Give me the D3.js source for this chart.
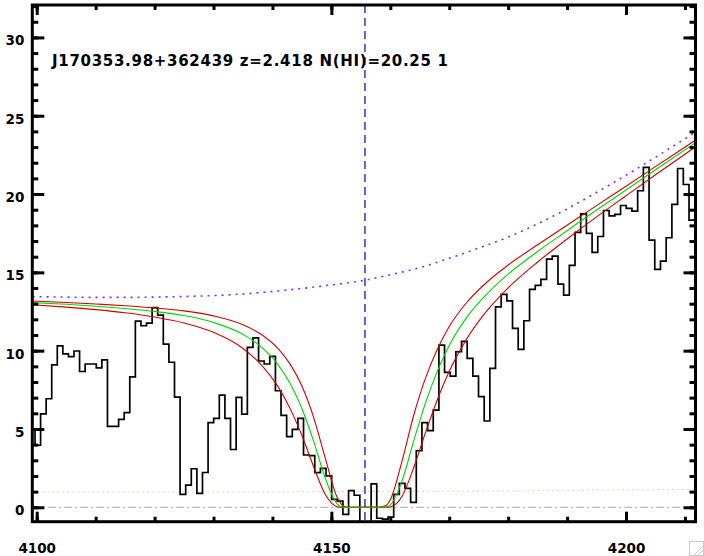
<!DOCTYPE html>
<html><head><meta charset="utf-8">
<script src="https://cdn.jsdelivr.net/npm/d3@7"></script>
<style>html,body{margin:0;padding:0;background:#fff}svg{display:block}</style>
</head><body>
<svg id="chart" width="704" height="556"></svg>
<script>
// ---------- data ----------
const titleText = "J170353.98+362439 z=2.418 N(HI)=20.25 1";
const xMajorTicks = [4100, 4150, 4200];
const xMinorTicks = [4100, 4110, 4120, 4130, 4140, 4150, 4160, 4170, 4180, 4190, 4200, 4210];
const yMajorTicks = [0, 5, 10, 15, 20, 25, 30];
const yMinorTicks = d3.range(0, 33, 1);
const lineCenter = 4155.7;

// SDSS log-lambda pixel grid (centre of first pixel, step in log10)
const pixelStart = 4099.24;
const logStep = 1e-4;
const flux = [
  5.0, 3.96, 5.97, 6.93, 9.09, 10.3, 9.79, 9.62, 9.98, 8.67,
  9.15, 9.15, 8.90, 9.41, 5.17, 5.17, 5.61, 6.04, 8.33, 11.89,
  11.59, 11.76, 12.75, 12.27, 10.42, 9.26, 7.03, 0.83, 1.42, 2.46,
  0.89, 2.22, 5.40, 5.68, 7.16, 5.68, 3.69, 7.02, 5.95, 10.21,
  10.82, 9.34, 9.15, 9.63, 7.44, 5.87, 4.51, 4.98, 5.68, 3.34,
  3.30, 2.21, 2.49, 2.00, 0.5, 0.4, -0.45, 1.06, 0.77, -1.3,
  -1.3, 1.49, -0.70, -0.75, -0.63, 0.83, 1.53, 1.21, 0.32, 3.61,
  5.40, 4.89, 6.2, 10.36, 8.61, 8.38, 9.93, 10.59, 9.51, 8.38,
  7.06, 5.51, 8.87, 12.80, 13.59, 13.18, 11.42, 10.08, 11.91, 13.91,
  14.17, 14.55, 15.85, 16.04, 14.25, 13.55, 15.44, 17.55, 18.74, 17.49,
  16.27, 17.29, 18.95, 18.61, 18.70, 19.27, 19.08, 18.91, 20.21, 21.70,
  17.06, 15.19, 15.72, 17.21, 19.34, 21.63, 20.61, 18.33, 18.33
];

// continuum (purple dotted)
const contWave = [4099.3, 4105, 4110, 4115, 4120, 4125, 4130, 4135, 4140, 4145, 4150, 4155, 4160, 4165, 4170, 4175, 4180, 4185, 4190, 4195, 4200, 4205, 4212];
const contFlux = [13.45, 13.42, 13.40, 13.40, 13.42, 13.46, 13.52, 13.62, 13.78, 13.97, 14.2, 14.45, 14.85, 15.3, 15.9, 16.55, 17.25, 18.1, 19.05, 20.1, 21.2, 22.35, 24.0];

// error level (orange dotted)
const errWave = [4099.3, 4130, 4150, 4170, 4190, 4212];
const errFlux = [0.97, 0.97, 1.0, 1.02, 1.08, 1.15];

// fitted profiles: best fit (green) and the two bounding fits (red)
const fitWave  = [4099.3, 4105, 4110, 4115, 4120, 4125, 4130, 4135, 4138, 4141, 4143, 4145, 4147, 4149, 4151, 4152, 4153, 4155.6, 4158, 4159.2, 4160, 4162, 4164, 4166, 4168, 4170, 4173, 4176, 4180, 4185, 4190, 4195, 4200, 4205, 4212];
const fitBest  = [13.07, 12.96, 12.84, 12.69, 12.51, 12.24, 11.80, 11.04, 10.27, 9.08, 7.91, 6.31, 4.21, 1.82, 0.21, 0.01, 0, 0, 0, 0.01, 0.15, 1.70, 4.27, 6.70, 8.71, 10.33, 12.14, 13.47, 14.89, 16.33, 17.66, 18.98, 20.26, 21.55, 23.33];
const fitLowN  = [13.17, 13.08, 12.98, 12.87, 12.73, 12.54, 12.22, 11.65, 11.06, 10.11, 9.14, 7.74, 5.73, 3.09, 0.62, 0.09, 0, 0, 0, 0.09, 0.48, 2.97, 5.91, 8.28, 10.10, 11.54, 13.09, 14.24, 15.47, 16.76, 18.01, 19.26, 20.50, 21.75, 23.50];
const fitHighN = [12.93, 12.78, 12.62, 12.42, 12.15, 11.77, 11.17, 10.14, 9.14, 7.67, 6.30, 4.58, 2.58, 0.80, 0.04, 0, 0, 0, 0, 0, 0.02, 0.70, 2.56, 4.80, 6.88, 8.68, 10.77, 12.36, 14.01, 15.66, 17.13, 18.54, 19.89, 21.23, 23.07];

// ---------- drawing ----------
const L = 32.3, R = 695.5, T = 5, B = 521.7;
const svg = d3.select("#chart");
const x = d3.scaleLinear().domain([4099.25, 4211.79]).range([L, R]);
const y = d3.scaleLinear().domain([-0.92, 32.07]).range([B, T]);

svg.append("rect").attr("width", 704).attr("height", 556).attr("fill", "#fff");

svg.append("clipPath").attr("id", "plotclip")
  .append("rect").attr("x", L).attr("y", T).attr("width", R - L).attr("height", B - T);
const g = svg.append("g").attr("clip-path", "url(#plotclip)");

const pairs = (w, f) => w.map((d, i) => [d, f[i]]);
const smooth = d3.line().x(d => x(d[0])).y(d => y(d[1])).curve(d3.curveMonotoneX);
const straight = d3.line().x(d => x(d[0])).y(d => y(d[1]));

// zero line (dash-dot)
g.append("path").attr("d", straight([[x.domain()[0], 0], [x.domain()[1], 0]]))
  .attr("stroke", "#a8a8a8").attr("stroke-width", 1).attr("fill", "none")
  .attr("stroke-dasharray", "8,3,2,3");

// error level (dotted)
g.append("path").attr("d", smooth(pairs(errWave, errFlux)))
  .attr("stroke", "#e0a870").attr("stroke-width", 1).attr("fill", "none")
  .attr("stroke-dasharray", "1,4");

// continuum (dotted purple)
g.append("path").attr("d", smooth(pairs(contWave, contFlux)))
  .attr("stroke", "#8a2be2").attr("stroke-width", 1.6).attr("fill", "none")
  .attr("stroke-dasharray", "2,5");

// spectrum histogram
const spec = flux.map((f, i) => [pixelStart * Math.pow(10, logStep * i), f]);
g.append("path").attr("d", d3.line().x(d => x(d[0])).y(d => y(d[1])).curve(d3.curveStep)(spec))
  .attr("stroke", "#000").attr("stroke-width", 1.7).attr("fill", "none");

// fits
g.append("path").attr("d", smooth(pairs(fitWave, fitLowN)))
  .attr("stroke", "#d40000").attr("stroke-width", 1.1).attr("fill", "none");
g.append("path").attr("d", smooth(pairs(fitWave, fitHighN)))
  .attr("stroke", "#d40000").attr("stroke-width", 1.1).attr("fill", "none");
g.append("path").attr("d", smooth(pairs(fitWave, fitBest)))
  .attr("stroke", "#00d800").attr("stroke-width", 1.1).attr("fill", "none");

// line centre
g.append("line").attr("x1", x(lineCenter)).attr("x2", x(lineCenter)).attr("y1", T).attr("y2", B)
  .attr("stroke", "#0000a8").attr("stroke-width", 1.2).attr("stroke-dasharray", "8,5");

// ---------- axes (IDL style, inward ticks on all sides) ----------
const tickStyle = sel => {
  sel.select(".domain").remove();
  sel.selectAll(".tick line").attr("stroke", "#000").attr("stroke-width", 3);
  sel.selectAll(".tick text").attr("fill", "#000");
};
const font = "'DejaVu Sans', sans-serif";

svg.append("g").attr("transform", `translate(0,${B})`)
  .call(d3.axisBottom(x).tickValues(xMinorTicks).tickSize(-5).tickSizeOuter(0).tickFormat("")).call(tickStyle);
svg.append("g").attr("transform", `translate(0,${B})`)
  .call(d3.axisBottom(x).tickValues(xMajorTicks).tickSize(-10).tickSizeOuter(0).tickPadding(22).tickFormat(d3.format("d")))
  .call(tickStyle)
  .call(s => s.selectAll(".tick text").attr("font-family", font).attr("font-weight", "bold").attr("font-size", "13.5px"));
svg.append("g").attr("transform", `translate(0,${T})`)
  .call(d3.axisTop(x).tickValues(xMinorTicks).tickSize(-5).tickSizeOuter(0).tickFormat("")).call(tickStyle);
svg.append("g").attr("transform", `translate(0,${T})`)
  .call(d3.axisTop(x).tickValues(xMajorTicks).tickSize(-10).tickSizeOuter(0).tickFormat("")).call(tickStyle);

svg.append("g").attr("transform", `translate(${L},0)`)
  .call(d3.axisLeft(y).tickValues(yMinorTicks).tickSize(-6).tickSizeOuter(0).tickFormat("")).call(tickStyle);
svg.append("g").attr("transform", `translate(${L},0)`)
  .call(d3.axisLeft(y).tickValues(yMajorTicks).tickSize(-12).tickSizeOuter(0).tickPadding(8).tickFormat(d3.format("d")))
  .call(tickStyle)
  .call(s => s.selectAll(".tick text").attr("font-family", font).attr("font-weight", "bold").attr("font-size", "13.5px").attr("dy", "0.55em"));
svg.append("g").attr("transform", `translate(${R},0)`)
  .call(d3.axisRight(y).tickValues(yMinorTicks).tickSize(-6).tickSizeOuter(0).tickFormat("")).call(tickStyle);
svg.append("g").attr("transform", `translate(${R},0)`)
  .call(d3.axisRight(y).tickValues(yMajorTicks).tickSize(-12).tickSizeOuter(0).tickFormat("")).call(tickStyle);

// frame
svg.append("rect").attr("x", L).attr("y", T).attr("width", R - L).attr("height", B - T)
  .attr("fill", "none").attr("stroke", "#000").attr("stroke-width", 3);

// title
svg.append("text").attr("x", 52).attr("y", 66).text(titleText)
  .attr("font-family", font).attr("font-weight", "bold").attr("font-size", "15px")
  .attr("textLength", 396).attr("lengthAdjust", "spacing").attr("fill", "#000");

// window resize grip
const grip = svg.append("g").attr("stroke", "#c8c8c8").attr("stroke-width", 1).attr("fill", "none");
grip.append("rect").attr("x", 689.5).attr("y", 541.5).attr("width", 14).attr("height", 14);
grip.append("line").attr("x1", 694).attr("y1", 555).attr("x2", 703).attr("y2", 546);
grip.append("line").attr("x1", 698).attr("y1", 555).attr("x2", 703).attr("y2", 550);
</script>
</body></html>
